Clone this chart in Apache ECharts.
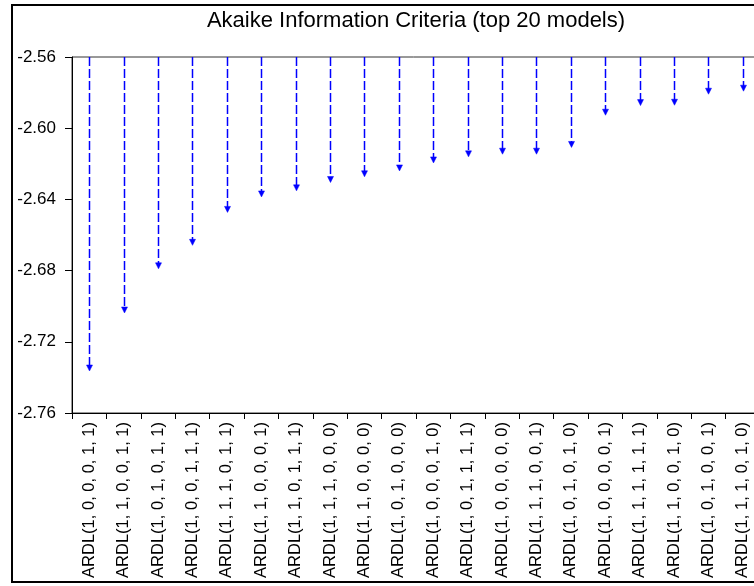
<!DOCTYPE html>
<html>
<head>
<meta charset="utf-8">
<script src="https://cdn.jsdelivr.net/npm/echarts@6/dist/echarts.min.js"></script>
<style>
  html, body { margin: 0; padding: 0; background: #fff; }
  #chart { width: 754px; height: 586px; }
</style>
</head>
<body>
<div id="chart"></div>
<script>
const titleText = 'Akaike Information Criteria (top 20 models)';
const models = [
  'ARDL(1, 0, 0, 0, 1, 1)', 'ARDL(1, 1, 0, 0, 1, 1)', 'ARDL(1, 0, 1, 0, 1, 1)',
  'ARDL(1, 0, 0, 1, 1, 1)', 'ARDL(1, 1, 1, 0, 1, 1)', 'ARDL(1, 1, 0, 0, 0, 1)',
  'ARDL(1, 1, 0, 1, 1, 1)', 'ARDL(1, 1, 1, 0, 0, 0)', 'ARDL(1, 1, 0, 0, 0, 0)',
  'ARDL(1, 0, 1, 0, 0, 0)', 'ARDL(1, 0, 0, 0, 1, 0)', 'ARDL(1, 0, 1, 1, 1, 1)',
  'ARDL(1, 0, 0, 0, 0, 0)', 'ARDL(1, 1, 1, 0, 0, 1)', 'ARDL(1, 0, 1, 0, 1, 0)',
  'ARDL(1, 0, 0, 0, 0, 1)', 'ARDL(1, 1, 1, 1, 1, 1)', 'ARDL(1, 1, 0, 0, 1, 0)',
  'ARDL(1, 0, 1, 0, 0, 1)', 'ARDL(1, 1, 1, 0, 1, 0)'
];
const aicValues = [
  -2.7364, -2.7038, -2.6790, -2.6658, -2.6473, -2.6386, -2.6352, -2.6305, -2.6273, -2.6240,
  -2.6195, -2.6161, -2.6146, -2.6146, -2.6108, -2.5927, -2.5873, -2.5871, -2.5809, -2.5792
];
const yMin = -2.76;
const yMax = -2.56;
const yStep = 0.04;

const FONT = "'Liberation Sans', Arial, sans-serif";
const chart = echarts.init(document.getElementById('chart'), null, { renderer: 'canvas' });

chart.setOption({
  animation: false,
  backgroundColor: '#ffffff',
  title: {
    text: titleText,
    left: 411,
    top: 5,
    textAlign: 'center',
    textStyle: { fontFamily: FONT, fontSize: 22, fontWeight: 'normal', color: '#000' }
  },
  graphic: [{
    type: 'rect',
    shape: { x: 12, y: 5, width: 800, height: 577 },
    style: { fill: 'none', stroke: '#000', lineWidth: 2 },
    silent: true,
    z: 100
  }],
  grid: {
    left: 72, top: 57, width: 688, height: 356,
    outerBoundsMode: 'none',
    containLabel: false,
    show: true, borderColor: '#333', borderWidth: 1, backgroundColor: 'transparent'
  },
  xAxis: {
    type: 'category',
    data: models,
    boundaryGap: true,
    axisLine: { lineStyle: { color: '#000', width: 1 } },
    axisTick: { show: true, length: 6, lineStyle: { color: '#000' } },
    axisLabel: {
      rotate: 90, interval: 0, margin: 9,
      fontFamily: FONT, fontSize: 16.5, color: '#000'
    },
    splitLine: { show: false }
  },
  yAxis: {
    type: 'value',
    min: yMin, max: yMax, interval: yStep,
    axisLine: { show: true, lineStyle: { color: '#000', width: 1 } },
    axisTick: { show: true, length: 7, lineStyle: { color: '#000' } },
    axisLabel: {
      margin: 16, fontFamily: FONT, fontSize: 17, color: '#000',
      formatter: v => v.toFixed(2)
    },
    splitLine: { show: false }
  },
  series: [{
    type: 'custom',
    data: aicValues.map((v, i) => [i, v]),
    renderItem: function (params, api) {
      const i = api.value(0);
      const v = api.value(1);
      const start = api.coord([i, yMax]);
      const tip = api.coord([i, v]);
      const x = Math.round(start[0]) + 0.5;
      const ah = 6, aw = 3;
      return {
        type: 'group',
        children: [
          {
            type: 'line',
            shape: { x1: x, y1: start[1], x2: x, y2: tip[1] - ah + 1 },
            style: { stroke: '#0000ff', lineWidth: 1.5, lineDash: [9, 3] }
          },
          {
            type: 'polygon',
            shape: { points: [[x - aw, tip[1] - ah], [x + aw, tip[1] - ah], [x, tip[1]]] },
            style: { fill: '#0000ff', stroke: '#0000ff', lineWidth: 0.5 }
          }
        ]
      };
    }
  }]
});
</script>
</body>
</html>
